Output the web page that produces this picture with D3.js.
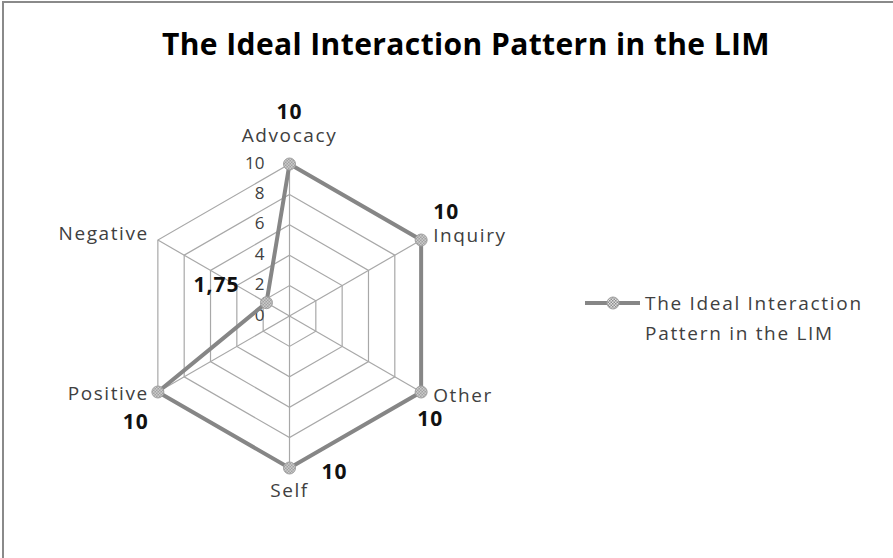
<!DOCTYPE html>
<html>
<head>
<meta charset="utf-8">
<script src="https://cdn.jsdelivr.net/npm/d3@7"></script>
<style>
  html, body { margin: 0; padding: 0; background: #fff; }
  svg text { font-family: "Open Sans", "Noto Sans", sans-serif; }
</style>
</head>
<body>
<div id="chart"></div>
<script>
// chart data
const categories = ["Advocacy", "Inquiry", "Other", "Self", "Positive", "Negative"];
const values = [10, 10, 10, 10, 10, 1.75];
const valueLabels = ["10", "10", "10", "10", "10", "1,75"];
const tickValues = [0, 2, 4, 6, 8, 10];
const seriesName = "The Ideal Interaction Pattern in the LIM";
const chartTitle = "The Ideal Interaction Pattern in the LIM";

const width = 893;
const height = 558;
const cx = 289.5, cy = 316, radius = 152;

// label placement relative to each vertex (styling only)
const catOffsets = {
    Advocacy: { dx: 0, dy: -27, anchor: "middle" },
    Inquiry: { dx: 12, dy: -3, anchor: "start" },
    Other: { dx: 12, dy: 5, anchor: "start" },
    Self: { dx: 0, dy: 24, anchor: "middle" },
    Positive: { dx: -9, dy: 3, anchor: "end" },
    Negative: { dx: -9, dy: -5, anchor: "end" }
};
const valOffsets = {
    Advocacy: { dx: 0, dy: -51, anchor: "middle" },
    Inquiry: { dx: 12, dy: -27, anchor: "start" },
    Other: { dx: -4, dy: 28, anchor: "start" },
    Self: { dx: 45, dy: 5, anchor: "middle" },
    Positive: { dx: -22, dy: 31, anchor: "middle" },
    Negative: { dx: -50, dy: -16, anchor: "middle" }
};

const svg = d3.select("#chart")
    .append("svg")
    .attr("width", width)
    .attr("height", height);

// checkered marker fill
const defs = svg.append("defs");
const pat = defs.append("pattern")
    .attr("id", "checker")
    .attr("width", 3)
    .attr("height", 3)
    .attr("patternUnits", "userSpaceOnUse");
pat.append("rect").attr("width", 3).attr("height", 3).attr("fill", "#e0e0e0");
pat.append("rect").attr("width", 1.5).attr("height", 1.5).attr("fill", "#8c8c8c");
pat.append("rect").attr("x", 1.5).attr("y", 1.5).attr("width", 1.5).attr("height", 1.5).attr("fill", "#8c8c8c");

// frame (only top and left edges visible)
svg.append("line").attr("x1", 2).attr("x2", width).attr("y1", 2).attr("y2", 2)
    .attr("stroke", "#8a8a8a").attr("stroke-width", 2);
svg.append("line").attr("x1", 3).attr("x2", 3).attr("y1", 2).attr("y2", height)
    .attr("stroke", "#8a8a8a").attr("stroke-width", 2);

// Title
svg.append("text")
    .attr("x", 466)
    .attr("y", 47)
    .attr("text-anchor", "middle")
    .attr("dominant-baseline", "middle")
    .attr("font-size", "30px")
    .attr("font-weight", "bold")
    .attr("letter-spacing", "0.4px")
    .attr("fill", "#000")
    .text(chartTitle);

const r = d3.scaleLinear().domain([0, 10]).range([0, radius]);
const angle = d3.scalePoint().domain(categories).range([0, 2 * Math.PI * (categories.length - 1) / categories.length]);

const g = svg.append("g").attr("transform", `translate(${cx},${cy})`);

const pt = (cat, v) => [Math.sin(angle(cat)) * r(v), -Math.cos(angle(cat)) * r(v)];

// grid rings
const ring = d3.lineRadial()
    .angle(d => angle(d.cat))
    .radius(d => r(d.v))
    .curve(d3.curveLinearClosed);

tickValues.filter(t => t > 0).forEach(t => {
    g.append("path")
        .attr("d", ring(categories.map(c => ({ cat: c, v: t }))))
        .attr("fill", "none")
        .attr("stroke", "#a8a8a8")
        .attr("stroke-width", 1.2);
});

// spokes
categories.forEach(c => {
    const [x, y] = pt(c, 10);
    g.append("line")
        .attr("x1", 0).attr("y1", 0)
        .attr("x2", x).attr("y2", y)
        .attr("stroke", "#a8a8a8")
        .attr("stroke-width", 1.2);
});

// tick labels along first axis
g.selectAll(".tick")
    .data(tickValues)
    .enter()
    .append("text")
    .attr("x", -25)
    .attr("y", d => -r(d))
    .attr("text-anchor", "end")
    .attr("dominant-baseline", "middle")
    .attr("font-size", "17px")
    .attr("fill", "#404040")
    .text(d => d);

// series
const series = categories.map((c, i) => ({ cat: c, v: values[i], label: valueLabels[i] }));

g.append("path")
    .attr("d", ring(series))
    .attr("fill", "none")
    .attr("stroke", "#868686")
    .attr("stroke-width", 4)
    .attr("stroke-linejoin", "miter");

g.selectAll(".marker")
    .data(series)
    .enter()
    .append("circle")
    .attr("cx", d => pt(d.cat, d.v)[0])
    .attr("cy", d => pt(d.cat, d.v)[1])
    .attr("r", 6)
    .attr("fill", "url(#checker)")
    .attr("stroke", "#a0a0a0")
    .attr("stroke-width", 1);

// category labels
g.selectAll(".cat")
    .data(categories)
    .enter()
    .append("text")
    .attr("x", d => pt(d, 10)[0] + catOffsets[d].dx)
    .attr("y", d => pt(d, 10)[1] + catOffsets[d].dy)
    .attr("text-anchor", d => catOffsets[d].anchor)
    .attr("dominant-baseline", "middle")
    .attr("font-size", "19px")
    .attr("letter-spacing", "1.6px")
    .attr("fill", "#404040")
    .text(d => d);

// data labels
g.selectAll(".val")
    .data(series)
    .enter()
    .append("text")
    .attr("x", d => pt(d.cat, d.v)[0] + valOffsets[d.cat].dx)
    .attr("y", d => pt(d.cat, d.v)[1] + valOffsets[d.cat].dy)
    .attr("text-anchor", d => valOffsets[d.cat].anchor)
    .attr("dominant-baseline", "middle")
    .attr("font-size", "21px")
    .attr("font-weight", "bold")
    .attr("letter-spacing", "1px")
    .attr("fill", "#111")
    .text(d => d.label);

// Legend
const legend = svg.append("g").attr("transform", "translate(585,303)");
legend.append("line")
    .attr("x1", 0).attr("x2", 55)
    .attr("y1", 0).attr("y2", 0)
    .attr("stroke", "#868686")
    .attr("stroke-width", 4);
legend.append("circle")
    .attr("cx", 28).attr("cy", 0).attr("r", 6)
    .attr("fill", "url(#checker)")
    .attr("stroke", "#a0a0a0");
const legText = legend.append("text")
    .attr("x", 60)
    .attr("y", 0)
    .attr("font-size", "19px")
    .attr("letter-spacing", "1.7px")
    .attr("fill", "#404040");
legText.append("tspan").attr("x", 60).attr("dy", "0.35em").text("The Ideal Interaction");
legText.append("tspan").attr("x", 60).attr("dy", 30).text("Pattern in the LIM");
</script>
</body>
</html>
